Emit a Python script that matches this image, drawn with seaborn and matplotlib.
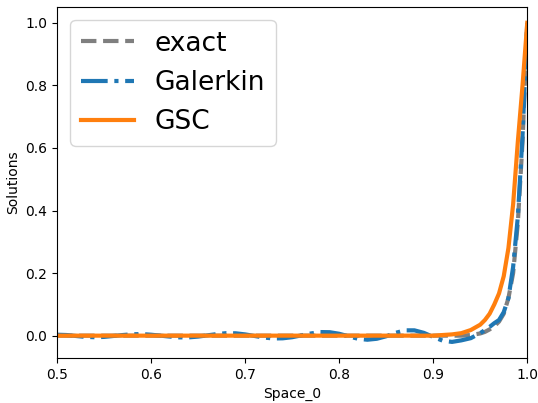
import numpy as np
import pandas as pd
import seaborn as sns
import matplotlib
matplotlib.use('Agg')
import matplotlib.pyplot as plt

# exact solution
x_exact = [0.50, 0.60, 0.70, 0.80, 0.90, 0.93, 0.94, 0.95, 0.955, 0.96, 0.965,
           0.97, 0.975, 0.98, 0.985, 0.99, 0.995, 1.0]
y_exact = [0.0, 0.0, 0.0, 0.0, 0.0, 0.0, 0.002, 0.007, 0.012, 0.02, 0.03,
           0.045, 0.07, 0.12, 0.2, 0.36, 0.62, 1.0]

# Galerkin solution, oscillating
x_gal = [0.50, 0.51, 0.52, 0.53, 0.54, 0.55, 0.56, 0.57, 0.58, 0.59,
         0.60, 0.61, 0.62, 0.63, 0.64, 0.65, 0.66, 0.67, 0.68, 0.69,
         0.70, 0.71, 0.72, 0.73, 0.74, 0.75, 0.76, 0.77, 0.78, 0.79,
         0.80, 0.81, 0.82, 0.83, 0.84, 0.85, 0.86, 0.87, 0.88, 0.89,
         0.90, 0.91, 0.92, 0.93, 0.94, 0.95, 0.955, 0.96, 0.965, 0.97,
         0.975, 0.98, 0.985, 0.99, 0.995, 1.0]
y_gal = [0.003, 0.002, -0.001, -0.004, -0.005, -0.004, -0.001, 0.002, 0.0045, 0.005,
         0.003, 0.0, -0.003, -0.0055, -0.0055, -0.003, 0.001, 0.005, 0.008, 0.0075,
         0.004, -0.001, -0.006, -0.009, -0.0085, -0.005, 0.001, 0.007, 0.0115, 0.011,
         0.006, -0.002, -0.010, -0.013, -0.010, -0.002, 0.009, 0.017, 0.017, 0.009,
         -0.004, -0.016, -0.020, -0.015, -0.008, 0.008, 0.018, 0.028, 0.04, 0.05,
         0.075, 0.12, 0.22, 0.38, 0.64, 1.0]

# GSC solution
x_gsc = [0.50, 0.60, 0.70, 0.80, 0.90, 0.91, 0.92, 0.93, 0.94, 0.95, 0.955,
         0.96, 0.965, 0.97, 0.975, 0.98, 0.985, 0.99, 0.995, 1.0]
y_gsc = [0.0, 0.0, 0.0, 0.0, 0.0, 0.002, 0.004, 0.008, 0.018, 0.035, 0.05,
         0.07, 0.10, 0.135, 0.19, 0.28, 0.42, 0.62, 0.80, 1.0]

fig = plt.figure(figsize=(5.38, 4.03), dpi=100)
ax = fig.add_axes([0.106, 0.112, 0.874, 0.871])

sns.lineplot(x=x_exact, y=y_exact, ax=ax, color='tab:gray', lw=3,
             linestyle='--', label='exact')
sns.lineplot(x=x_gal, y=y_gal, ax=ax, color='tab:blue', lw=3,
             linestyle='-.', label='Galerkin')
sns.lineplot(x=x_gsc, y=y_gsc, ax=ax, color='tab:orange', lw=3,
             linestyle='-', label='GSC')

ax.set_xlim(0.5, 1.0)
ax.set_xlabel('Space_0')
ax.set_ylabel('Solutions')
ax.legend(loc='upper left', fontsize=19)

fig.savefig('out.png', dpi=100)
